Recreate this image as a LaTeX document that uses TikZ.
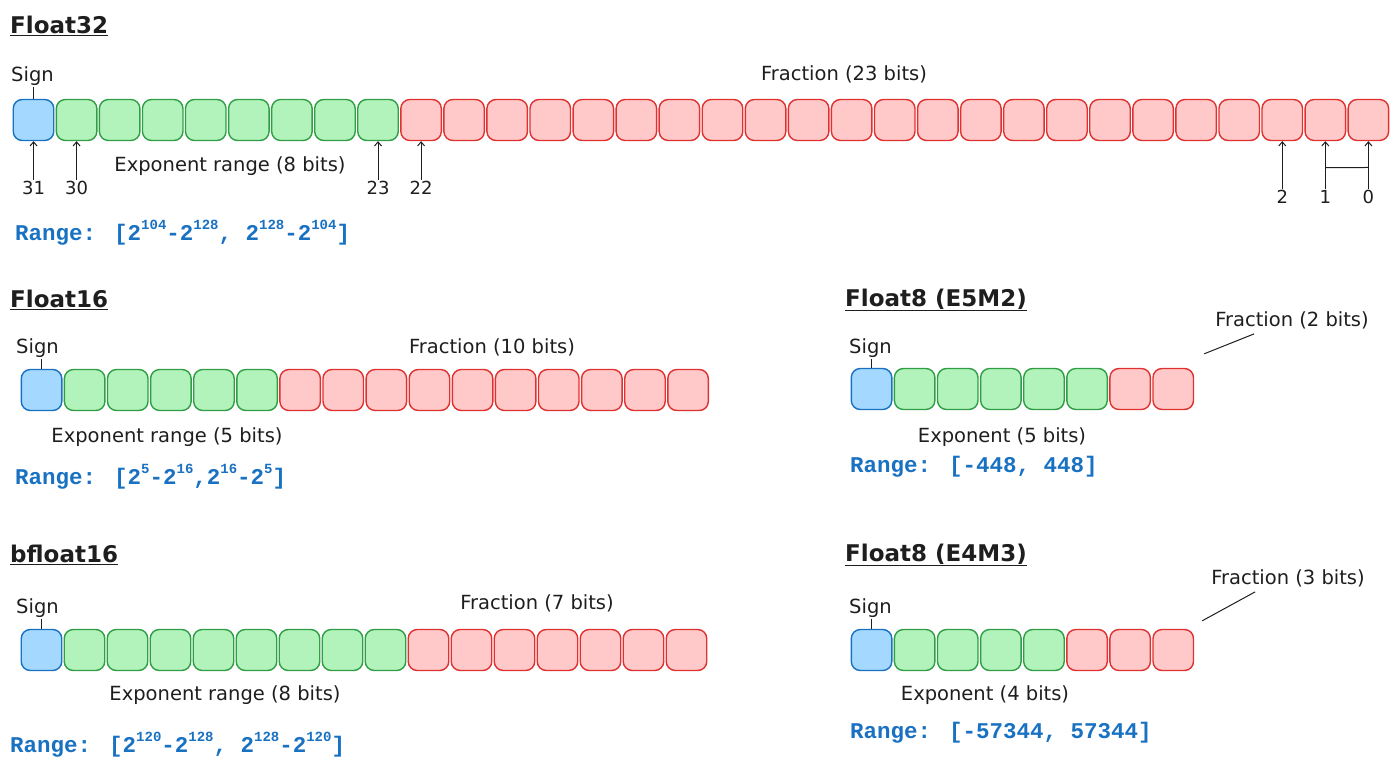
\documentclass[tikz,border=0pt]{standalone}
\usepackage{fontspec}
\setmainfont{DejaVu Sans}
\newfontfamily\rangefont{Liberation Mono}
\usetikzlibrary{arrows.meta,calc}
\definecolor{ink}{HTML}{1E1E1E}
\definecolor{sgnD}{HTML}{1971C2}
\definecolor{sgnF}{HTML}{A5D8FF}
\definecolor{expD}{HTML}{2F9E44}
\definecolor{expF}{HTML}{B2F2BB}
\definecolor{manD}{HTML}{E03131}
\definecolor{manF}{HTML}{FFC9C9}
\definecolor{rng}{HTML}{1971C2}
\newcommand{\rsup}[1]{\raisebox{0.5em}{\fontsize{14}{14}\selectfont #1}}
\tikzset{
  cellbox/.style={draw, rounded corners=9pt, line width=1.4pt, minimum width=40.5pt, minimum height=41pt, inner sep=0pt},
  sgncell/.style={cellbox, draw=sgnD, fill=sgnF},
  expcell/.style={cellbox, draw=expD, fill=expF},
  mancell/.style={cellbox, draw=manD, fill=manF},
  titlelbl/.style={anchor=west, inner sep=0pt, text=ink, font=\fontsize{23}{26}\selectfont\bfseries},
  lbl/.style={inner sep=1pt, text=ink, font=\fontsize{19.5}{22}\selectfont},
  bitlbl/.style={inner sep=1pt, text=ink, font=\fontsize{18}{20}\selectfont},
  rangelbl/.style={anchor=west, inner sep=0pt, text=rng, font=\fontsize{22.5}{25}\selectfont\rangefont\bfseries},
  leader/.style={draw=ink, line width=1pt},
  uparrow/.style={draw=ink, line width=1pt, -{Straight Barb[length=4pt,width=7pt]}},
}
\newcommand{\bitrow}[6]{%
  \node[sgncell] (#1s) at ({#2+#4/2},#3) {};
  \foreach \i in {1,...,#5} {\node[expcell] (#1e\i) at ({#2+(\i+0.5)*#4},#3) {};}
  \foreach \j in {1,...,#6} {\node[mancell] (#1m\j) at ({#2+(#5+\j+0.5)*#4},#3) {};}
}
\begin{document}
\begin{tikzpicture}[x=1pt,y=-1pt]
\useasboundingbox (0,0) rectangle (1400,771);

% ---------------- Float32 ----------------
\node[titlelbl] (t1) at (10,26) {\underline{Float32}};
\bitrow{a}{12}{120}{43.06}{8}{23}
\node[lbl, anchor=west] (a-sign) at (10,76) {Sign};
\draw[leader] (a-sign.south -| as.north) -- (as.north);
\node[lbl] (a-frac) at (844,74) {Fraction (23 bits)};
\node[lbl] (a-exp) at (230,166) {Exponent range (8 bits)};
\node[bitlbl] (a31) at (as.center |- 0,188) {31};
\node[bitlbl] (a30) at (ae1.center |- 0,188) {30};
\node[bitlbl] (a23) at (ae8.center |- 0,188) {23};
\node[bitlbl] (a22) at (am1.center |- 0,188) {22};
\draw[uparrow] (a31) -- (as);
\draw[uparrow] (a30) -- (ae1);
\draw[uparrow] (a23) -- (ae8);
\draw[uparrow] (a22) -- (am1);
\node[bitlbl] (a2) at (am21.center |- 0,197) {2};
\node[bitlbl] (a1) at (am22.center |- 0,197) {1};
\node[bitlbl] (a0) at (am23.center |- 0,197) {0};
\draw[uparrow] (a2) -- (am21);
\draw[uparrow] (a1) -- (am22);
\draw[uparrow] (a0) -- (am23);
\coordinate (a-br1) at ($(am22.south)!0.55!(a1.north)$);
\coordinate (a-br0) at ($(am23.south)!0.55!(a0.north)$);
\draw[leader] (a-br1) -- (a-br0);
\node[rangelbl] (a-range) at (15,233) {Range: [2\rsup{104}-2\rsup{128}, 2\rsup{128}-2\rsup{104}]};

% ---------------- Float16 ----------------
\node[titlelbl] (t2) at (10,300) {\underline{Float16}};
\bitrow{b}{20}{390}{43.1}{5}{10}
\node[lbl, anchor=west] (b-sign) at (15,348) {Sign};
\draw[leader] (b-sign.south -| bs.north) -- (bs.north);
\node[lbl] (b-frac) at (492,347) {Fraction (10 bits)};
\node[lbl] (b-exp) at (167,437) {Exponent range (5 bits)};
\node[rangelbl] (b-range) at (15,477) {Range: [2\rsup{5}-2\rsup{16},2\rsup{16}-2\rsup{5}]};

% ---------------- bfloat16 ----------------
\node[titlelbl] (t3) at (10,555) {\underline{bfloat16}};
\bitrow{c}{20}{650}{43.0}{8}{7}
\node[lbl, anchor=west] (c-sign) at (15,608) {Sign};
\draw[leader] (c-sign.south -| cs.north) -- (cs.north);
\node[lbl] (c-frac) at (537,603) {Fraction (7 bits)};
\node[lbl] (c-exp) at (225,695) {Exponent range (8 bits)};
\node[rangelbl] (c-range) at (10,745) {Range: [2\rsup{120}-2\rsup{128}, 2\rsup{128}-2\rsup{120}]};

% ---------------- Float8 E5M2 ----------------
\node[titlelbl] (t4) at (845,300) {\underline{Float8 (E5M2)}};
\bitrow{d}{850}{389}{43.1}{5}{2}
\node[lbl, anchor=west] (d-sign) at (848,348) {Sign};
\draw[leader] (d-sign.south -| ds.north) -- (ds.north);
\node[lbl] (d-frac) at (1292,320) {Fraction (2 bits)};
\draw[leader] ([shift={(10,-14)}]dm2.north east) -- ([shift={(40,4)}]d-frac.south west);
\node[lbl] (d-exp) at (1002,437) {Exponent (5 bits)};
\node[rangelbl] (d-range) at (850,467) {Range: [-448, 448]};

% ---------------- Float8 E4M3 ----------------
\node[titlelbl] (t5) at (845,555) {\underline{Float8 (E4M3)}};
\bitrow{e}{850}{650}{43.1}{4}{3}
\node[lbl, anchor=west] (e-sign) at (848,608) {Sign};
\draw[leader] (e-sign.south -| es.north) -- (es.north);
\node[lbl] (e-frac) at (1288,578) {Fraction (3 bits)};
\draw[leader] ([shift={(8,-8)}]em3.north east) -- ([shift={(45,4)}]e-frac.south west);
\node[lbl] (e-exp) at (985,695) {Exponent (4 bits)};
\node[rangelbl] (e-range) at (850,733) {Range: [-57344, 57344]};
\end{tikzpicture}
\end{document}
